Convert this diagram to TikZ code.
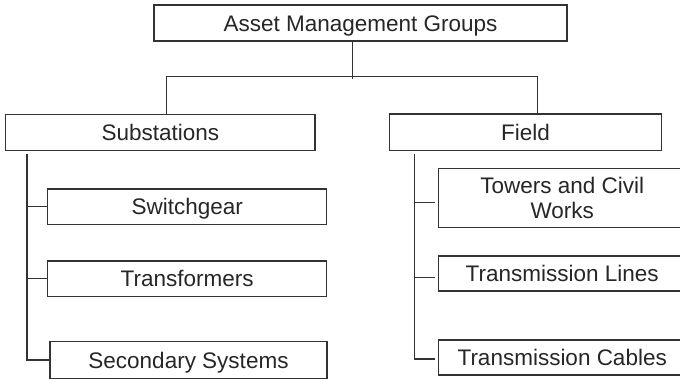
\documentclass[tikz,border=0pt]{standalone}
\usepackage{fontspec}
\setmainfont{Liberation Sans}
\definecolor{linec}{HTML}{333333}
\definecolor{textc}{HTML}{262626}
\begin{document}
\begin{tikzpicture}[x=1pt,y=-1pt,
  box/.style={draw=linec, line width=1.3pt, inner sep=0pt, align=center,
    text=textc, font=\fontsize{22.5}{25}\selectfont,
    text height=16.2pt, text depth=0pt},
  conn/.style={draw=linec, line width=1.3pt}]
\useasboundingbox (0,0) rectangle (680,379);
\node[box, minimum width=413pt, minimum height=36pt] (top) at (360.5,23) {Asset Management Groups};
\node[box, minimum width=309.3pt, minimum height=35.8pt] (sub) at (160.4,132.4) {Substations};
\node[box, minimum width=272.4pt, minimum height=36.5pt] (field) at (525.5,132.3) {Field};
\node[box, minimum width=279pt, minimum height=35.3pt] (sw) at (187.2,206.7) {Switchgear};
\node[box, minimum width=279pt, minimum height=35.3pt] (tr) at (187.2,278.7) {Transformers};
\node[box, minimum width=277pt, minimum height=36.6pt] (sec) at (188.5,360) {Secondary Systems};
\node[box, minimum width=248pt, minimum height=59.4pt, text height=41.2pt] (tow) at (562.2,198) {Towers and Civil\\Works};
\node[box, minimum width=248pt, minimum height=35pt] (tl) at (562.2,273.5) {Transmission Lines};
\node[box, minimum width=248pt, minimum height=35pt] (tc) at (562.2,357.5) {Transmission Cables};
% top tree
\coordinate (j) at (352.3,79);
\coordinate (hl) at (166.7,76.7);
\coordinate (hr) at (537.7,76.7);
\draw[conn] (top.south -| j) -- (j);
\draw[conn] (hl |- sub.north) -- (hl) -- (hr) -- (hr |- field.north);
% left tree
\coordinate (ls) at (27,154.3);
\coordinate (le) at (27,360);
\draw[conn] (ls) -- (le) -- (sec.west);
\draw[conn] (ls |- sw.west) -- (sw.west);
\draw[conn] (ls |- tr.west) -- (tr.west);
% right tree
\coordinate (rs) at (414.3,154.3);
\coordinate (re) at (414.3,359);
\draw[conn] (rs) -- (re) -- (435,359);
\draw[conn] (414.3,202.7) -- (435,202.7);
\draw[conn] (414.3,277.7) -- (435,277.7);
\end{tikzpicture}
\end{document}
